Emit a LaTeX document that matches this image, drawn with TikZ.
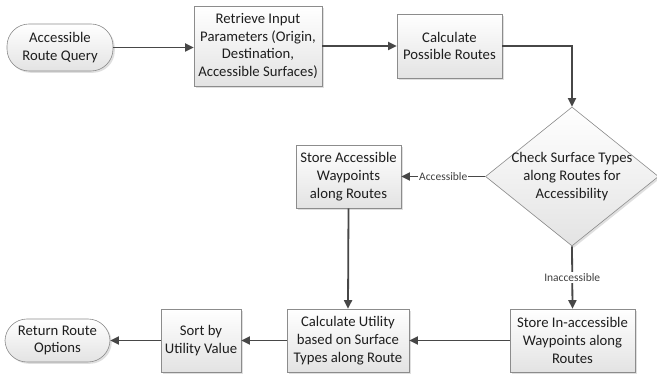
\documentclass[tikz,border=0pt]{standalone}
\usepackage{fontspec}
\setmainfont{Carlito}
\usetikzlibrary{arrows.meta,shapes.geometric,shadows}
\definecolor{edgegray}{HTML}{8C8C8C}
\definecolor{linegray}{HTML}{474747}
\definecolor{txt}{HTML}{1E1E1E}
\begin{document}
\begin{tikzpicture}[x=1pt,y=-1pt,
  base/.style={draw=edgegray, line width=0.6pt, top color=white, bottom color=black!11,
    drop shadow={shadow xshift=1.8pt, shadow yshift=-1.8pt, fill=black!25, opacity=0.5},
    align=center, inner sep=0pt, text=txt,
    font=\fontsize{14.7pt}{17.8pt}\selectfont},
  procbox/.style={base, rectangle},
  pill/.style={base, rectangle, rounded corners=22pt},
  decbox/.style={base, diamond, minimum width=173pt, minimum height=139pt, aspect=1.24},
  conn/.style={draw=linegray, line width=1.8pt, -{Triangle[length=8.5pt,width=8pt]}},
  lbl/.style={fill=white, inner sep=1pt, text=txt!85, font=\fontsize{11.5pt}{13pt}\selectfont}
]
\useasboundingbox (0,0) rectangle (657,379);
\node[pill, minimum width=106pt, minimum height=47pt] (q) at (60,47.5) {Accessible\\Route Query};
\node[procbox, minimum width=128pt, minimum height=80pt] (r) at (258,46) {Retrieve Input\\Parameters (Origin,\\Destination,\\Accessible Surfaces)};
\node[procbox, minimum width=105pt, minimum height=64pt] (c) at (449.5,46) {Calculate\\Possible Routes};
\node[decbox] (d) at (572,176.5) {};
\node[align=center, inner sep=0pt, text=txt, font=\fontsize{14.7pt}{17.8pt}\selectfont] (dt) at (572,176.5) {Check Surface Types\\along Routes for\\Accessibility};
\node[procbox, minimum width=105pt, minimum height=63pt] (sa) at (348.5,176.5) {Store Accessible\\Waypoints\\along Routes};
\node[procbox, minimum width=125pt, minimum height=63pt] (ui) at (572.5,340.5) {Store In-accessible\\Waypoints along\\Routes};
\node[procbox, minimum width=122pt, minimum height=63pt] (cu) at (348,340.5) {Calculate Utility\\based on Surface\\Types along Route};
\node[procbox, minimum width=80pt, minimum height=63pt] (so) at (201,340.5) {Sort by\\Utility Value};
\node[pill, minimum width=105pt, minimum height=43pt] (ro) at (57.5,340.5) {Return Route\\Options};

\draw[conn] (q.east) -- (q.east -| r.west);
\draw[conn] (r.east) -- (c.west);
\draw[conn] (c.east) -| (d.north);
\draw[conn] (d.west) -- node[lbl] (la) {Accessible} (sa.east);
\draw[conn] (d.south) -- node[lbl] (li) {Inaccessible} (ui.north);
\draw[conn] (sa.south) -- (cu.north);
\draw[conn] (ui.west) -- (cu.east);
\draw[conn] (cu.west) -- (so.east);
\draw[conn] (so.west) -- (ro.east);
\end{tikzpicture}
\end{document}
